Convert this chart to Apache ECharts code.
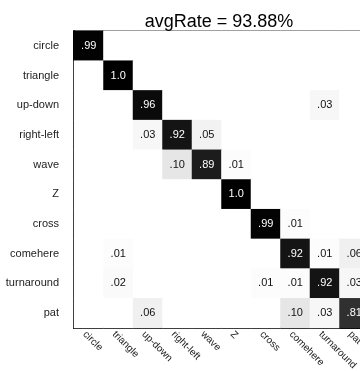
<!DOCTYPE html>
<html><head><meta charset="utf-8">
<script src="https://cdn.jsdelivr.net/npm/echarts@6/dist/echarts.min.js"></script>
<style>html,body{margin:0;padding:0;background:#fff}#c{width:360px;height:371px}</style>
</head><body><div id="c"></div>
<script>
var titleText = 'avgRate = 93.88%';
var categories = ['circle','triangle','up-down','right-left','wave','Z','cross','comehere','turnaround','pat'];
var rowCircle     = [0.99,0,0,0,0,0,0,0,0,0];
var rowTriangle   = [0,1.0,0,0,0,0,0,0,0,0];
var rowUpDown     = [0,0,0.96,0,0,0,0,0,0.03,0];
var rowRightLeft  = [0,0,0.03,0.92,0.05,0,0,0,0,0];
var rowWave       = [0,0,0,0.10,0.89,0.01,0,0,0,0];
var rowZ          = [0,0,0,0,0,1.0,0,0,0,0];
var rowCross      = [0,0,0,0,0,0,0.99,0.01,0,0];
var rowComehere   = [0,0.01,0,0,0,0,0,0.92,0.01,0.06];
var rowTurnaround = [0,0.02,0,0,0,0,0.01,0.01,0.92,0.03];
var rowPat        = [0,0,0.06,0,0,0,0,0.10,0.03,0.81];
var rows = [rowCircle,rowTriangle,rowUpDown,rowRightLeft,rowWave,rowZ,rowCross,rowComehere,rowTurnaround,rowPat];

var data = [];
rows.forEach(function(r, yi){
  r.forEach(function(v, xi){
    data.push({value:[xi, yi, v], label:{color: v > 0.5 ? '#ffffff' : '#111111'}});
  });
});
function fmt(v){
  if (v === 0) return '';
  if (v >= 1) return v.toFixed(1);
  return v.toFixed(2).replace(/^0/, '');
}
var chart = echarts.init(document.getElementById('c'), null, {renderer:'canvas'});
var font = 'Liberation Sans, Arial, sans-serif';
chart.setOption({
  animation:false,
  textStyle:{fontFamily:font},
  title:{text:titleText, left:214, textAlign:'center', top:8,
    textStyle:{fontFamily:font, fontSize:18, fontWeight:'normal', color:'#000'}},
  grid:{left:74, top:31, width:295, height:297, show:true, borderColor:'#000', borderWidth:1,
    containLabel:false, outerBoundsMode:'none'},
  visualMap:{show:false, min:0, max:1, dimension:2, inRange:{color:['#ffffff','#000000']}},
  xAxis:{type:'category', data:categories, position:'bottom',
    axisLine:{show:true, lineStyle:{color:'#000', width:2}},
    axisTick:{show:false}, splitLine:{show:false},
    axisLabel:{rotate:-45, interval:0, fontSize:10, color:'#222', fontFamily:font, margin:9,
      padding:[0,0,0,-6], hideOverlap:false}},
  yAxis:{type:'category', data:categories, inverse:true,
    axisLine:{show:true, lineStyle:{color:'#000', width:2}},
    axisTick:{show:false}, splitLine:{show:false},
    axisLabel:{fontSize:11, color:'#222', fontFamily:font, margin:15}},
  series:[{type:'heatmap', data:data,
    label:{show:true, fontSize:11, fontFamily:font, formatter:function(p){return fmt(p.value[2]);}},
    itemStyle:{borderWidth:0}}]
});
</script></body></html>
